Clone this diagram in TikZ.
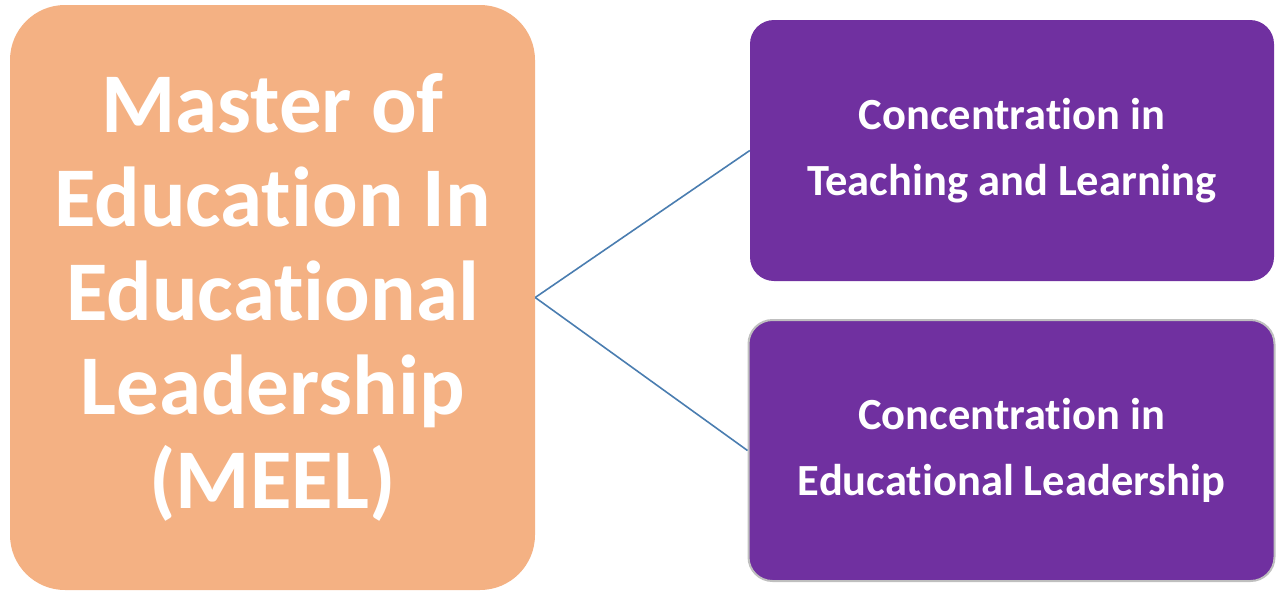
\documentclass[tikz,border=0pt]{standalone}
\usepackage{fontspec}
\setmainfont{Carlito}[Ligatures=NoCommon]
\definecolor{meelorange}{HTML}{F4B183}
\definecolor{concpurple}{HTML}{7030A0}
\definecolor{linkblue}{HTML}{4A7DB0}
\tikzset{
    degree/.style={fill=meelorange, rounded corners=55pt, minimum width=525pt, minimum height=585pt, inner sep=0pt, align=center, text=white, font=\bfseries\fontsize{85}{94}\selectfont},
    conc/.style={fill=concpurple, rounded corners=24pt, inner sep=0pt, align=center, text=white, font=\bfseries\fontsize{44.5}{66}\selectfont},
    link/.style={draw=linkblue, line width=1.6pt}
}
\begin{document}
\begin{tikzpicture}[x=1pt,y=-1pt]
        \useasboundingbox (0,0) rectangle (1282,590);
        \draw (272.5,297.5) node[degree](meel){Master of\\Education In\\Educational\\Leadership\\(MEEL)};
        \draw (1012,150.5) node[conc, minimum width=524pt, minimum height=261pt](teach){Concentration in\\Teaching and Learning};
        \draw (1011.5,450.5) node[conc, draw=black!25, line width=2pt, minimum width=526pt, minimum height=261pt](lead){Concentration in\\Educational Leadership};
        \draw[link] (meel.east) -- (teach.west);
        \draw[link] (meel.east) -- (lead.west);
	\end{tikzpicture}
\end{document}
